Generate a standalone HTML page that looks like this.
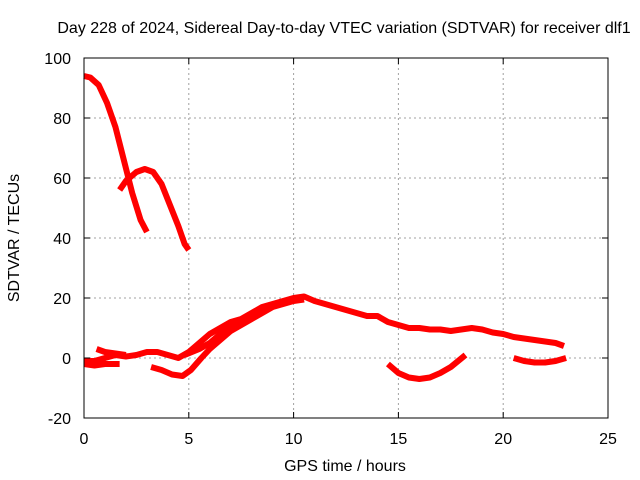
<!DOCTYPE html>
<html><head><meta charset="utf-8"><style>
body{margin:0;background:#fff}
svg{display:block;font-family:"Liberation Sans",sans-serif;font-size:16px}
</style></head><body>
<svg id="chart" width="640" height="480" viewBox="0 0 640 480">
<text x="344" y="33" text-anchor="middle">Day 228 of 2024, Sidereal Day-to-day VTEC variation (SDTVAR) for receiver dlf1</text>
<g id="grid"></g>
<g id="series"></g>
<rect x="84" y="58" width="524" height="360" fill="none" stroke="#000" stroke-width="1"/>
<g id="ticks"></g>
<text x="345" y="471" text-anchor="middle">GPS time / hours</text>
<text x="19" y="238" text-anchor="middle" transform="rotate(-90 19 238)">SDTVAR / TECUs</text>
</svg>
<script>
const xTicks=[0,5,10,15,20,25];
const yTicks=[-20,0,20,40,60,80,100];
const seg1=[[0,94],[0.3,93.5],[0.7,91],[1.1,85],[1.5,77],[1.9,66],[2.3,55],[2.7,46],[3.0,42]];
const seg2=[[1.7,56],[2.0,59],[2.5,62],[2.9,63],[3.3,62],[3.7,58],[4.1,51],[4.5,44],[4.8,38],[5.0,36]];
const seg3=[[0,-1],[0.5,-1],[1,0],[1.5,1],[2,0.5],[2.5,1],[3,2],[3.5,2],[4,1],[4.5,0],[5,2],[5.5,5],[6,8],[6.5,10],[7,12],[7.5,13],[8,15],[8.5,17],[9,18],[9.5,19],[10,20],[10.5,20.5],[11,19],[11.5,18],[12,17],[12.5,16],[13,15],[13.5,14],[14,14],[14.5,12],[15,11],[15.5,10],[16,10],[16.5,9.5],[17,9.5],[17.5,9],[18,9.5],[18.5,10],[19,9.5],[19.5,8.5],[20,8],[20.5,7],[21,6.5],[21.5,6],[22,5.5],[22.5,5],[22.9,4]];
const seg4=[[0.6,3],[1,2],[1.5,1.5],[2,1]];
const seg5=[[0,-2],[0.5,-2.5],[1,-2],[1.7,-2]];
const seg6=[[3.2,-3],[3.7,-4],[4.2,-5.5],[4.7,-6],[5.1,-4],[5.6,0],[6,3],[6.5,6],[7,9],[7.5,11],[8,13],[8.5,15],[9,17],[9.5,18],[10,19],[10.5,19.5]];
const seg7=[[4.8,1],[5.5,3],[6,5],[6.5,8],[7,10],[7.5,12.5],[8,14]];
const seg8=[[14.5,-2],[15,-5],[15.5,-6.5],[16,-7],[16.5,-6.5],[17,-5],[17.5,-3],[18.2,1]];
const seg9=[[20.5,0],[21,-1],[21.5,-1.5],[22,-1.5],[22.5,-1],[23,0]];
const segments=[seg1,seg2,seg3,seg4,seg5,seg6,seg7,seg8,seg9];
const X=v=>84+v*524/25, Y=v=>418-(v+20)*3;
const NS="http://www.w3.org/2000/svg";
const grid=document.getElementById('grid'),ticks=document.getElementById('ticks'),ser=document.getElementById('series');
function mk(tag,attrs,parent){const e=document.createElementNS(NS,tag);for(const k in attrs)e.setAttribute(k,attrs[k]);parent.appendChild(e);return e;}
xTicks.forEach(t=>{
  if(t>0&&t<25){const g=mk('line',{x1:X(t),x2:X(t),y1:58,y2:418,stroke:'#a0a0a0','stroke-dasharray':'2,3'},grid);
  }
  const tk=mk('path',{d:`M${X(t)} 418v-6M${X(t)} 58v6`,stroke:'#000'},ticks);
  
  const l=mk('text',{x:X(t),y:444,'text-anchor':'middle'},ticks);l.textContent=t;
  
});
yTicks.forEach(t=>{
  if(t>-20&&t<100){const g=mk('line',{x1:84,x2:608,y1:Y(t),y2:Y(t),stroke:'#a0a0a0','stroke-dasharray':'2,3'},grid);
  }
  const tk=mk('path',{d:`M84 ${Y(t)}h6M608 ${Y(t)}h-6`,stroke:'#000'},ticks);
  
  const l=mk('text',{x:71,y:Y(t)+6,'text-anchor':'end'},ticks);l.textContent=t;
  
});
segments.forEach(s=>{
  const p=mk('polyline',{points:s.map(d=>X(d[0])+','+Y(d[1])).join(' '),fill:'none',stroke:'#ff0000','stroke-width':6,'stroke-linejoin':'round'},ser);
  
});
</script>
</body></html>
